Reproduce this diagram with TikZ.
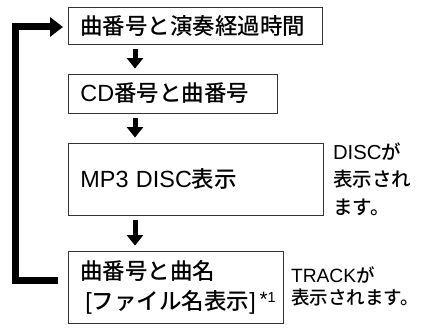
\documentclass[tikz,border=0pt]{standalone}
\usepackage{fontspec}
\setmainfont{Noto Sans CJK JP}[UprightFont=* Medium]
\newfontfamily\lat{Liberation Sans}[Scale=1.04]
\usetikzlibrary{arrows.meta}
\begin{document}
\begin{tikzpicture}[x=1pt,y=-1pt,
  box/.style={draw=black!80, line width=0.8pt, inner xsep=12pt, inner ysep=0pt,
    align=left, anchor=west, font=\fontsize{22.5}{30}\selectfont},
  side/.style={inner sep=0pt, anchor=west, align=left},
  flow/.style={line width=5pt, -{Triangle[width=16pt,length=10.5pt]},
    shorten <=5pt, shorten >=5pt},
  loopline/.style={line width=7pt, line join=miter,
    -{Triangle[width=19pt,length=13pt]}}]
\useasboundingbox (0,0) rectangle (423,328);
\node[box, text width=230pt, minimum height=37pt] (b1) at (68,25.5) {曲番号と演奏経過時間};
\node[box, text width=185pt, minimum height=39pt] (b2) at (68,93.5) {{\lat CD}番号と曲番号};
\node[box, text width=231pt, minimum height=72pt] (b3) at (68,179) {{\lat MP3 DISC}表示};
\node[box, text width=191pt, minimum height=72pt] (b4) at (68,287)
  {曲番号と曲名\\\hspace*{5pt}{\lat[}ファイル名表示{\lat]}\,\raisebox{3pt}{\lat\fontsize{20}{20}\selectfont *}\raisebox{7pt}{\lat\fontsize{14}{14}\selectfont 1}};
\node[side, font=\fontsize{19.5}{27.5}\selectfont] (t3) at ([xshift=9pt]b3.east) {{\lat DISC}が\\表示され\\ます。};
\node[side, font=\fontsize{18.5}{22}\selectfont] (t4) at ([xshift=7pt,yshift=1pt]b4.east) {{\lat TRACK}が\\表示されます。};
\coordinate (ax) at (135,0);
\draw[flow] (ax |- b1.south) -- (ax |- b2.north);
\draw[flow] (ax |- b2.south) -- (ax |- b3.north);
\draw[flow] (ax |- b3.south) -- (ax |- b4.north);
\coordinate (lx) at (15,0);
\coordinate (ls) at ([xshift=-10pt,yshift=6pt]b4.west);
\coordinate (le) at ([xshift=-5pt,yshift=-1.5pt]b1.west);
\draw[loopline] (ls) -- (ls -| lx) -- (lx |- le) -- (le);
\end{tikzpicture}
\end{document}
